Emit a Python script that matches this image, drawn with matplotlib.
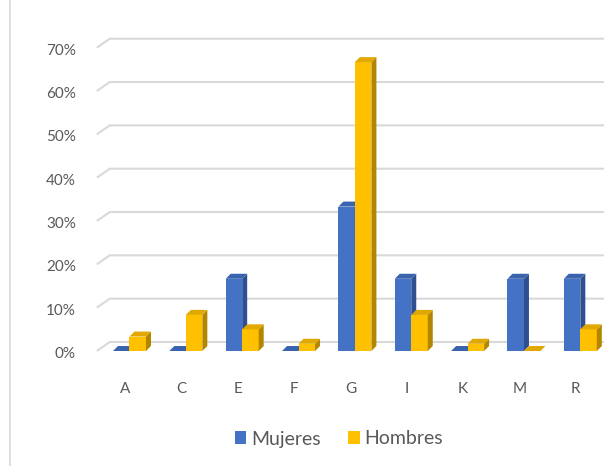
import matplotlib
matplotlib.use("Agg")
import matplotlib.pyplot as plt
from matplotlib.patches import Polygon, Patch
import numpy as np

categories = ["A", "C", "E", "F", "G", "I", "K", "M", "R"]
mujeres = [0.0, 0.0, 16.67, 0.0, 33.33, 16.67, 0.0, 16.67, 16.67]
hombres = [3.33, 8.33, 5.0, 1.67, 66.67, 8.33, 1.67, 0.0, 5.0]
yticks = [0, 10, 20, 30, 40, 50, 60, 70]
series_names = ["Mujeres", "Hombres"]

front_cols = ["#4472C4", "#FFC000"]
side_cols = ["#2E5090", "#B38600"]
top_cols = ["#3A63AE", "#E0A800"]
text_col = "#595959"
grid_col = "#D9D9D9"
FONT = "Lato"

W, H = 612, 466
fig = plt.figure(figsize=(W / 100, H / 100), dpi=100)
left_px, right_px = 96.8, 604.0
base_px, top_px = 351.0, 47.7
ax = fig.add_axes([left_px / W, (H - base_px) / H, (right_px - left_px) / W, (base_px - top_px) / H])
ax.set_xlim(-0.5, len(categories) - 0.5)
ax.set_ylim(0, 70)
ax.axis("off")

px_x = (len(categories)) / (right_px - left_px)  # data units per px (x)
px_y = 70.0 / (base_px - top_px)                  # data units per px (y)

# back-wall gridlines with slanted floor edge
gdx, gdy = 13 * px_x, 9 * px_y
for v in yticks:
    ax.plot([-0.5, -0.5 + gdx, len(categories) - 0.5], [v, v + gdy, v + gdy],
            color=grid_col, lw=1.5, clip_on=False, zorder=1, solid_capstyle="butt")
    ax.text(-0.5 - 21 * px_x, v - 3 * px_y, f"{v}%", ha="right", va="center",
            fontsize=11, color=text_col, family=FONT)

bw = 16.5 * px_x
ddx, ddy = 5 * px_x, 5 * px_y
offsets = [-12 * px_x, 4.5 * px_x]
x = np.arange(len(categories))
for si, vals in enumerate([mujeres, hombres]):
    x0s = x + offsets[si]
    ax.bar(x0s, vals, width=bw, align="edge", color=front_cols[si], zorder=3 + si, lw=0)
    for x0, h in zip(x0s, vals):
        x1 = x0 + bw
        if h > 0:
            side = Polygon([(x1, 0), (x1, h), (x1 + ddx, h + ddy), (x1 + ddx, ddy)],
                           closed=True, facecolor=side_cols[si], lw=0, zorder=3 + si)
            ax.add_patch(side)
        top = Polygon([(x0, h), (x1, h), (x1 + ddx, h + ddy), (x0 + ddx, h + ddy)],
                      closed=True, facecolor=top_cols[si], lw=0, zorder=3 + si)
        ax.add_patch(top)

for i, c in enumerate(categories):
    ax.text(i, -38 * px_y, c, ha="center", va="center", fontsize=11,
            color=text_col, family=FONT, clip_on=False)

handles = [Patch(facecolor=front_cols[i], edgecolor="none") for i in range(2)]
fig.legend(handles, series_names, loc="center", bbox_to_anchor=(339 / W, 1 - 439 / H),
           ncol=2, frameon=False, handlelength=0.6, handleheight=0.6,
           handletextpad=0.25, columnspacing=1.4, labelcolor=text_col,
           prop={"family": FONT, "size": 14})

fig.add_artist(plt.Line2D([10 / W, 10 / W], [0, 1], color="#D9D9D9", lw=1.2))

fig.savefig("out.png", dpi=100)
